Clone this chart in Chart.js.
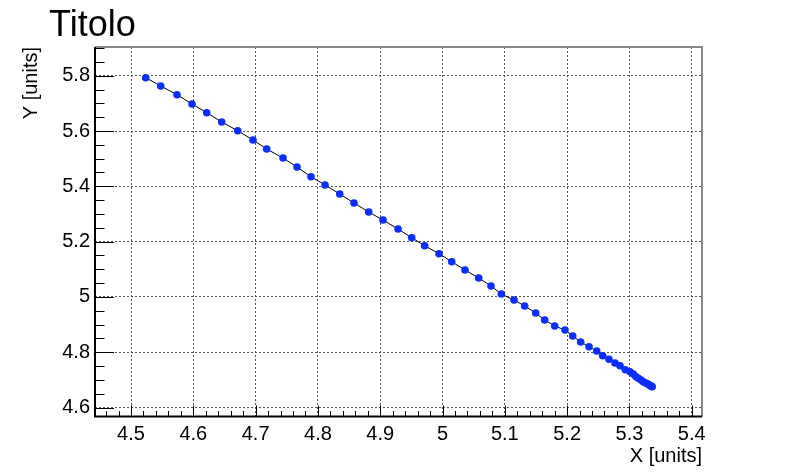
<!DOCTYPE html>
<html>
<head>
<meta charset="utf-8">
<script src="https://cdn.jsdelivr.net/npm/chart.js@4.4.1/dist/chart.umd.min.js"></script>
<style>
  html, body { margin: 0; padding: 0; background: #fff; }
  #wrap { width: 798px; height: 475px; }
</style>
</head>
<body>
<div id="wrap"><canvas id="graph"></canvas></div>
<script>

const titleText = "Titolo";
const xTitle = "X [units]";
const yTitle = "Y [units]";

const xTicks = [4.5, 4.6, 4.7, 4.8, 4.9, 5.0, 5.1, 5.2, 5.3, 5.4];
const yTicks = [4.6, 4.8, 5.0, 5.2, 5.4, 5.6, 5.8];

const xValues = [4.5236, 4.5477, 4.5738, 4.5979, 4.6215, 4.6456, 4.6713, 4.6958, 4.7178, 4.7440,
  4.7665, 4.7889, 4.8114, 4.8350, 4.8579, 4.8815, 4.9045, 4.9286, 4.9506, 4.9714,
  4.9944, 5.0148, 5.0361, 5.0581, 5.0778, 5.0944, 5.1148, 5.1319, 5.1496, 5.1640,
  5.1801, 5.1966, 5.2090, 5.2218, 5.2352, 5.2475, 5.2571, 5.2672, 5.2769, 5.2849,
  5.2934, 5.3010, 5.3063, 5.3106, 5.3143, 5.3186, 5.3223, 5.3262, 5.3294, 5.3320,
  5.3342, 5.3355, 5.3365];
const yValues = [5.7928, 5.7627, 5.7313, 5.6977, 5.6662, 5.6326, 5.6011, 5.5675, 5.5349, 5.5024,
  5.4698, 5.4347, 5.4047, 5.3722, 5.3396, 5.3071, 5.2781, 5.2456, 5.2141, 5.1852,
  5.1562, 5.1273, 5.0973, 5.0684, 5.0394, 5.0105, 4.9888, 4.9671, 4.9418, 4.9165,
  4.8948, 4.8803, 4.8586, 4.8369, 4.8199, 4.8043, 4.7873, 4.7743, 4.7609, 4.7512,
  4.7367, 4.7295, 4.7209, 4.7114, 4.7056, 4.6995, 4.6933, 4.6886, 4.6850, 4.6814,
  4.6778, 4.6765, 4.6755];

const family = "'Liberation Sans', Arial, Helvetica, sans-serif";

// ROOT style frame: inner ticks, grey top/right edge, title top left
const rootFrame = {
  id: "rootFrame",
  afterDraw(chart){
    const {ctx, chartArea: a, scales: {x, y}} = chart;
    ctx.save();

    ctx.strokeStyle = "#000";
    ctx.lineWidth = 1;
    ctx.beginPath();
    for (let i = Math.ceil(x.min * 50); i <= x.max * 50; i++){
      const px = Math.round(x.getPixelForValue(i / 50)) + 0.5;
      const len = i % 5 === 0 ? 11 : 5.5;
      ctx.moveTo(px, a.bottom);
      ctx.lineTo(px, a.bottom - len);
    }
    for (let i = Math.ceil(y.min * 20); i <= y.max * 20; i++){
      const py = Math.round(y.getPixelForValue(i / 20)) + 0.5;
      const len = i % 4 === 0 ? 19 : 9.5;
      ctx.moveTo(a.left, py);
      ctx.lineTo(a.left + len, py);
    }
    ctx.stroke();

    ctx.lineWidth = 2;
    ctx.strokeStyle = "#888";
    ctx.beginPath();
    ctx.moveTo(a.left, a.top);
    ctx.lineTo(a.right, a.top);
    ctx.lineTo(a.right, a.bottom);
    ctx.stroke();

    ctx.strokeStyle = "#000";
    ctx.beginPath();
    ctx.moveTo(a.left, a.top);
    ctx.lineTo(a.left, a.bottom);
    ctx.lineTo(a.right, a.bottom);
    ctx.stroke();

    ctx.fillStyle = "#000";
    ctx.font = "36px " + family;
    ctx.textBaseline = "alphabetic";
    ctx.textAlign = "left";
    ctx.fillText(titleText, 49, 36);

    ctx.restore();
  }
};

function axis(ticks, title, fit){
  return {
    type: "linear",
    afterBuildTicks: s => { s.ticks = ticks.map(v => ({value: v})); },
    afterFit: fit,
    grid: {color: "#555", lineWidth: 1, drawTicks: false, borderDash: [2, 2]},
    border: {display: false, dash: [2, 2]},
    ticks: {
      color: "#000",
      font: {family: family, size: 20},
      autoSkip: false,
      maxRotation: 0,
      callback: v => String(+v.toFixed(2))
    },
    title: {display: true, text: title, align: "end", color: "#000", font: {family: family, size: 20}}
  };
}

const xAxis = axis(xTicks, xTitle, s => { s.height = 58.5; });
xAxis.min = 4.4422;
xAxis.max = 5.4165;
xAxis.ticks.padding = 6;
xAxis.title.padding = {top: 0, bottom: 7};

const yAxis = axis(yTicks, yTitle, s => { s.width = 79; });
yAxis.min = 4.5675;
yAxis.max = 5.9038;
yAxis.ticks.padding = 5;
yAxis.title.padding = {top: 3, bottom: 0};

new Chart("graph", {
  type: "scatter",
  data: {
    datasets: [{
      data: xValues.map((v, i) => ({x: v, y: yValues[i]})),
      showLine: true,
      borderColor: "#000",
      borderWidth: 1,
      pointRadius: 3.8,
      pointBorderWidth: 0,
      pointBackgroundColor: "#0a2eff"
    }]
  },
  options: {
    responsive: true,
    maintainAspectRatio: false,
    animation: false,
    layout: {padding: {left: 16, right: 96, top: 47, bottom: 0}},
    plugins: {legend: {display: false}, tooltip: {enabled: false}, title: {display: false}},
    scales: {x: xAxis, y: yAxis}
  },
  plugins: [rootFrame]
});

</script>
</body>
</html>
